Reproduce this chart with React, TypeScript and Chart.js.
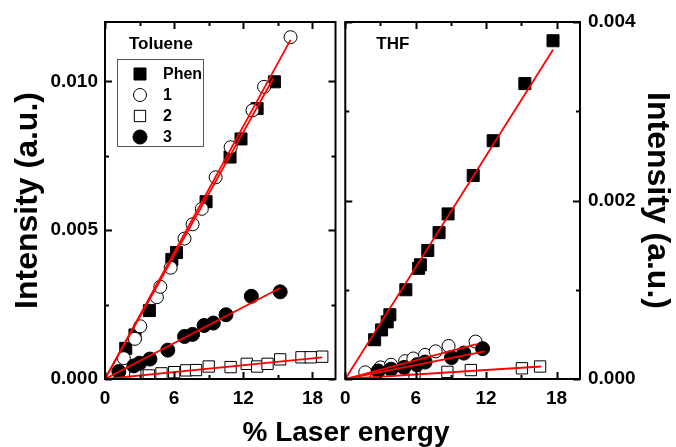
import React, { useEffect, useRef } from 'react';
import { Chart, registerables } from 'chart.js';
Chart.register(...registerables);

// ---------- data ----------
const seriesNames = ['Phen', '1', '2', '3'];
const xTicks = [0, 6, 12, 18];
const xMinorTicks = [3, 9, 15];
const tolYTicks = [0, 0.005, 0.01];
const tolYMinor = [0.0025, 0.0075];
const thfYTicks = [0, 0.002, 0.004];
const thfYMinor = [0.001, 0.003];

// Toluene
const tolPhenX = [1.8, 2.6, 3.85, 5.8, 6.2, 8.77, 10.85, 11.8, 13.2, 14.7];
const tolPhenY = [0.00103, 0.00148, 0.0023, 0.00402, 0.00425, 0.00596, 0.00746, 0.00807, 0.00909, 0.00999];
const tolC1X = [1.63, 2.6, 3.06, 4.5, 4.8, 5.7, 6.9, 7.6, 8.4, 9.6, 10.9, 12.8, 13.8, 16.1];
const tolC1Y = [0.0007, 0.00135, 0.00177, 0.00275, 0.0031, 0.00374, 0.00472, 0.0052, 0.00572, 0.00678, 0.00779, 0.00903, 0.00982, 0.01149];
const tolC2X = [2.63, 3.8, 4.9, 6.0, 7.05, 7.9, 9.0, 10.9, 12.3, 13.2, 14.1, 15.2, 17.05, 17.85, 18.85];
const tolC2Y = [0.00017, 0.00012, 0.00019, 0.00023, 0.00029, 0.0003, 0.00042, 0.0004, 0.00051, 0.00042, 0.00051, 0.00066, 0.00073, 0.00073, 0.00075];
const tolC3X = [1.2, 2.5, 3.0, 3.9, 5.45, 6.9, 7.6, 8.6, 9.4, 10.5, 12.7, 15.2];
const tolC3Y = [0.00025, 0.00044, 0.00053, 0.00067, 0.00097, 0.00143, 0.0015, 0.0018, 0.00188, 0.00216, 0.00278, 0.00293];
const tolFitEndX = [14.6, 16.1, 18.85, 15.2];
const tolFitEndY = [0.0101, 0.0114, 0.00073, 0.00306];

// THF
const thfPhenX = [2.5, 3.09, 3.57, 3.8, 5.16, 6.25, 6.4, 7.03, 7.99, 8.76, 10.9, 12.6, 15.3, 17.7];
const thfPhenY = [0.00044, 0.00055, 0.00064, 0.00072, 0.001, 0.00124, 0.00128, 0.00144, 0.00164, 0.00185, 0.00228, 0.00267, 0.00331, 0.00379];
const thfC1X = [1.7, 3.0, 3.9, 5.1, 5.8, 6.8, 7.7, 8.8, 11.1];
const thfC1Y = [0.000075, 0.00013, 0.00016, 0.0002, 0.00023, 0.00027, 0.00031, 0.00037, 0.00042];
const thfC2X = [5.9, 8.7, 10.7, 15.05, 16.6];
const thfC2Y = [0.00006, 0.00008, 0.0001, 0.00012, 0.00014];
const thfC3X = [2.8, 3.9, 5.0, 6.1, 6.8, 9.05, 10.1, 11.7];
const thfC3Y = [0.00009, 0.00011, 0.00013, 0.00016, 0.00019, 0.00024, 0.00029, 0.00034];
const thfFitEndX = [17.7, 11.2, 16.7, 11.9];
const thfFitEndY = [0.00369, 0.00039, 0.00014, 0.00031];

// ---------- styling ----------
const FONT = '"Liberation Sans", Arial, Helvetica, sans-serif';
const markerStyles = [
  { pointStyle: 'rect', radius: 8.5, bg: '#000000' },
  { pointStyle: 'circle', radius: 6.5, bg: '#ffffff' },
  { pointStyle: 'rect', radius: 8, bg: '#ffffff' },
  { pointStyle: 'circle', radius: 7, bg: '#000000' },
];
const pointOrder = [4, 3, 2, 1];

function zip(xs: number[], ys: number[]) {
  return xs.map((x, i) => ({ x, y: ys[i] }));
}

function buildDatasets(series: [number[], number[]][], fitX: number[], fitY: number[]) {
  const ds: any[] = [];
  fitX.forEach((fx, i) => {
    ds.push({
      label: 'fit ' + seriesNames[i],
      data: [{ x: 0, y: 0 }, { x: fx, y: fitY[i] }],
      showLine: true,
      borderColor: '#ff0000',
      borderWidth: 1.8,
      pointRadius: 0,
      order: 0,
    });
  });
  series.forEach(([xs, ys], i) => {
    const m = markerStyles[i];
    ds.push({
      label: seriesNames[i],
      data: zip(xs, ys),
      showLine: false,
      pointStyle: m.pointStyle,
      pointRadius: m.radius,
      pointBackgroundColor: m.bg,
      pointBorderColor: '#000000',
      pointBorderWidth: 1,
      order: pointOrder[i],
    });
  });
  return ds;
}

function drawMarker(ctx: CanvasRenderingContext2D, i: number, cx: number, cy: number) {
  const m = markerStyles[i];
  ctx.beginPath();
  if (m.pointStyle === 'rect') {
    const s = m.radius * Math.SQRT1_2;
    ctx.rect(cx - s, cy - s, 2 * s, 2 * s);
  } else {
    ctx.arc(cx, cy, m.radius, 0, Math.PI * 2);
  }
  ctx.fillStyle = m.bg;
  ctx.fill();
  ctx.strokeStyle = '#000';
  ctx.lineWidth = 1;
  ctx.stroke();
}

const decoPlugin = {
  id: 'deco',
  afterDatasetsDraw(chart: any, _args: any, opts: any) {
    const { ctx, chartArea } = chart;
    const { left, right, top, bottom } = chartArea;
    const xs = chart.scales.x;
    const ys = chart.scales.y;
    ctx.save();
    ctx.strokeStyle = '#000';
    ctx.lineWidth = 2;
    ctx.strokeRect(left, top, right - left, bottom - top);
    const major = 7;
    const minor = 4;
    ctx.beginPath();
    const xt = (vals: number[], len: number) => {
      vals.forEach((v) => {
        const px = Math.round(xs.getPixelForValue(v)) + 0.5;
        ctx.moveTo(px, bottom);
        ctx.lineTo(px, bottom - len);
        ctx.moveTo(px, top);
        ctx.lineTo(px, top + len);
      });
    };
    const yt = (vals: number[], len: number) => {
      vals.forEach((v) => {
        const py = Math.round(ys.getPixelForValue(v)) + 0.5;
        ctx.moveTo(left, py);
        ctx.lineTo(left + len, py);
        ctx.moveTo(right, py);
        ctx.lineTo(right - len, py);
      });
    };
    xt(xTicks, major);
    xt(xMinorTicks, minor);
    yt(opts.yMajor, major);
    yt(opts.yMinor, minor);
    ctx.stroke();

    // panel label
    ctx.fillStyle = '#000';
    ctx.font = `bold 17px ${FONT}`;
    ctx.textBaseline = 'middle';
    ctx.textAlign = 'left';
    ctx.fillText(opts.label, left + opts.labelDx, top + 22);

    if (opts.legend) {
      const bx = left + 12;
      const by = top + 37;
      ctx.lineWidth = 1;
      ctx.strokeStyle = '#555';
      ctx.strokeRect(bx + 0.5, by + 0.5, 86, 87);
      ctx.font = `bold 16px ${FONT}`;
      seriesNames.forEach((name, i) => {
        const cy = by + 15 + i * 21;
        drawMarker(ctx, i, bx + 23, cy);
        ctx.fillStyle = '#000';
        ctx.fillText(name, bx + 46, cy + 1);
      });
    }
    ctx.restore();
  },
};

function makeConfig(kind: 'tol' | 'thf'): any {
  const isTol = kind === 'tol';
  const datasets = isTol
    ? buildDatasets(
        [
          [tolPhenX, tolPhenY],
          [tolC1X, tolC1Y],
          [tolC2X, tolC2Y],
          [tolC3X, tolC3Y],
        ],
        tolFitEndX,
        tolFitEndY
      )
    : buildDatasets(
        [
          [thfPhenX, thfPhenY],
          [thfC1X, thfC1Y],
          [thfC2X, thfC2Y],
          [thfC3X, thfC3Y],
        ],
        thfFitEndX,
        thfFitEndY
      );
  const yMajor = isTol ? tolYTicks : thfYTicks;
  const yMinor = isTol ? tolYMinor : thfYMinor;
  const tickFont = { family: FONT, size: 19, weight: 'bold' };
  return {
    type: 'scatter',
    data: { datasets },
    plugins: [decoPlugin],
    options: {
      animation: false,
      responsive: false,
      maintainAspectRatio: false,
      layout: {
        padding: isTol ? { top: 22, left: 0, right: 5, bottom: 0 } : { top: 22, left: 4, right: 0, bottom: 0 },
      },
      plugins: {
        legend: { display: false },
        tooltip: { enabled: false },
        deco: {
          yMajor,
          yMinor,
          label: isTol ? 'Toluene' : 'THF',
          labelDx: isTol ? 24 : 31,
          legend: isTol,
        },
      },
      scales: {
        x: {
          type: 'linear',
          min: 0,
          max: 20,
          afterBuildTicks: (s: any) => {
            s.ticks = xTicks.map((v) => ({ value: v }));
          },
          afterFit: (s: any) => {
            s.height = 68;
          },
          grid: { display: false, drawTicks: false },
          border: { display: false },
          ticks: { font: tickFont, color: '#000', padding: 8, maxRotation: 0, autoSkip: false },
        },
        y: {
          type: 'linear',
          position: isTol ? 'left' : 'right',
          min: 0,
          max: isTol ? 0.012 : 0.004,
          afterBuildTicks: (s: any) => {
            s.ticks = yMajor.map((v) => ({ value: v }));
          },
          afterFit: (s: any) => {
            s.width = isTol ? 105 : 96;
          },
          grid: { display: false, drawTicks: false },
          border: { display: false },
          ticks: {
            font: tickFont,
            color: '#000',
            padding: isTol ? 7 : 8,
            autoSkip: false,
            callback: (v: any) => Number(v).toFixed(3),
          },
          title: {
            display: true,
            text: 'Intensity (a.u.)',
            color: '#000',
            font: { family: FONT, size: 32, weight: 'bold' },
            padding: isTol ? { top: 9, bottom: 0 } : { top: 0, bottom: 0 },
          },
        },
      },
    },
  };
}

function Panel({ kind, left, width }: { kind: 'tol' | 'thf'; left: number; width: number }) {
  const ref = useRef<HTMLCanvasElement | null>(null);
  useEffect(() => {
    if (!ref.current) return;
    const chart = new Chart(ref.current, makeConfig(kind));
    return () => chart.destroy();
  }, [kind]);
  return (
    <canvas
      ref={ref}
      width={width}
      height={447}
      style={{ position: 'absolute', left, top: 0, width, height: 447 }}
    />
  );
}

export default function App() {
  useEffect(() => {
    document.body.style.margin = '0';
  }, []);
  return (
    <div style={{ position: 'relative', width: 676, height: 447, overflow: 'hidden', background: '#fff' }}>
      <Panel kind="tol" left={0} width={345} />
      <Panel kind="thf" left={332} width={344} />
      <div
        style={{
          position: 'absolute',
          left: 8,
          width: 676,
          top: 416,
          textAlign: 'center',
          fontFamily: FONT,
          fontWeight: 'bold',
          fontSize: 28,
          lineHeight: '32px',
          color: '#000',
          whiteSpace: 'nowrap',
        }}
      >
        % Laser energy
      </div>
    </div>
  );
}
